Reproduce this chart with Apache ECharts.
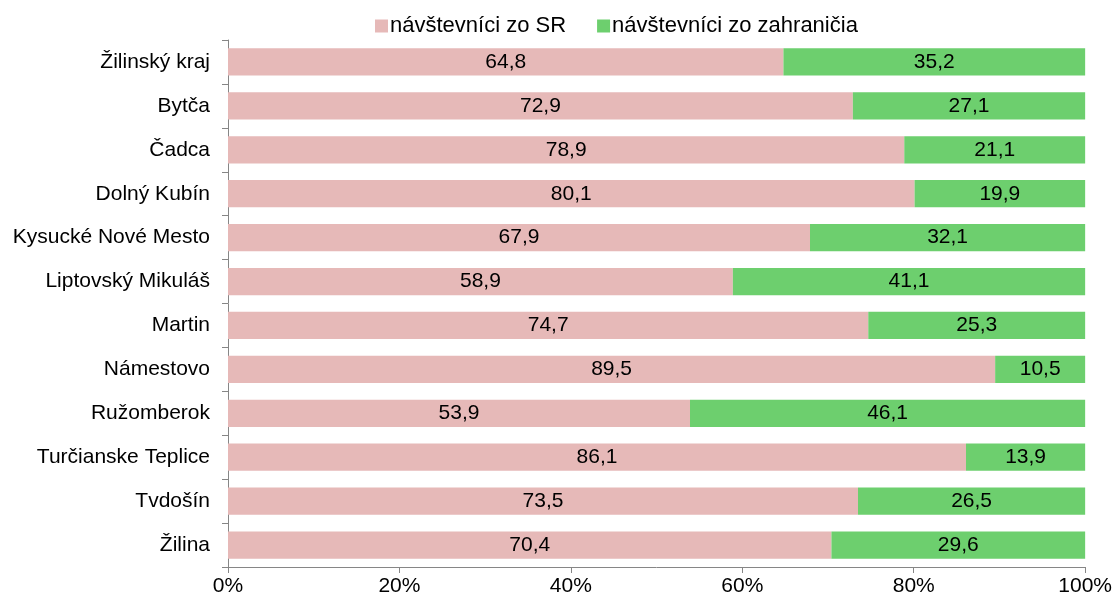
<!DOCTYPE html>
<html><head><meta charset="utf-8">
<script src="https://cdn.jsdelivr.net/npm/echarts@6/dist/echarts.min.js"></script>
<style>html,body{margin:0;padding:0;background:#fff}#c{width:1115px;height:601px}</style>
</head><body><div id="c"></div>
<script>
const categories = ["Žilinský kraj","Bytča","Čadca","Dolný Kubín","Kysucké Nové Mesto","Liptovský Mikuláš","Martin","Námestovo","Ružomberok","Turčianske Teplice","Tvdošín","Žilina"];
const domestic = [64.8,72.9,78.9,80.1,67.9,58.9,74.7,89.5,53.9,86.1,73.5,70.4];
const foreign = [35.2,27.1,21.1,19.9,32.1,41.1,25.3,10.5,46.1,13.9,26.5,29.6];
const seriesNames = ["návštevníci zo SR","návštevníci zo zahraničia"];
const font = "Liberation Sans, Arial, sans-serif";
const fmt = p => p.value.toFixed(1).replace('.', ',');
const chart = echarts.init(document.getElementById('c'));
chart.setOption({
  animation:false,
  textStyle:{fontFamily:font},
  legend:{top:10,left:370,itemWidth:13,itemHeight:13,itemGap:31,icon:'rect',
    textStyle:{fontSize:22,color:'#000',fontFamily:font,padding:[0,0,0,-3]},data:seriesNames},
  grid:{left:228,right:27,top:40,bottom:34,containLabel:false},
  xAxis:{type:'value',min:0,max:100,interval:20,
    axisLabel:{formatter:'{value}%',fontSize:21,color:'#000',margin:9,fontFamily:font},
    axisLine:{show:true,lineStyle:{color:'#868686'}},
    axisTick:{show:true,length:6,lineStyle:{color:'#868686'}},
    splitLine:{show:false}},
  yAxis:{type:'category',inverse:true,data:categories,
    axisLabel:{fontSize:21,color:'#000',margin:18,fontFamily:font},
    axisLine:{show:true,lineStyle:{color:'#868686'}},
    axisTick:{show:true,length:6,lineStyle:{color:'#868686'}}},
  series:[
    {name:seriesNames[0],type:'bar',stack:'a',data:domestic,barWidth:'62%',
     itemStyle:{color:'#E6B9B8'},
     label:{show:true,position:'inside',formatter:fmt,fontSize:21,color:'#000',fontFamily:font}},
    {name:seriesNames[1],type:'bar',stack:'a',data:foreign,barWidth:'62%',
     itemStyle:{color:'#6DCF6E'},
     label:{show:true,position:'inside',formatter:fmt,fontSize:21,color:'#000',fontFamily:font}}
  ]
});
</script></body></html>
